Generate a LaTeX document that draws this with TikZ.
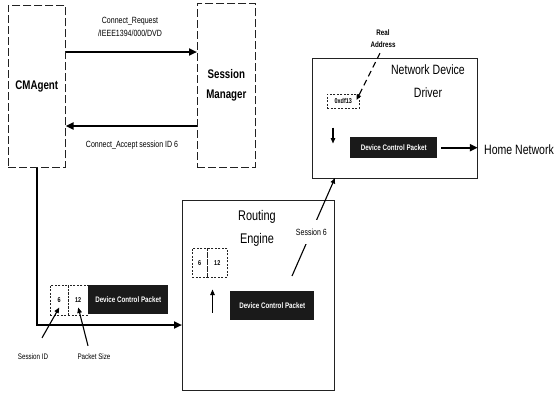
\documentclass[tikz,border=0pt]{standalone}
\usepackage{fontspec}
\setmainfont{Liberation Sans}[FakeStretch=0.78]
\usetikzlibrary{arrows.meta}
\definecolor{pktblack}{HTML}{1A1A1A}
\definecolor{boxline}{HTML}{222222}
\tikzset{
  dashbox/.style={draw=boxline, line width=0.6pt, dash pattern=on 8pt off 3pt, anchor=north west, inner sep=0pt},
  unit/.style={draw=boxline, line width=0.8pt, anchor=north west, inner sep=0pt},
  field/.style={draw=boxline, line width=0.5pt, dash pattern=on 2pt off 1.5pt, anchor=north west, inner sep=0pt,
    font=\bfseries\fontsize{7}{8}\selectfont},
  packet/.style={fill=pktblack, anchor=north west, inner sep=0pt, text=white,
    font=\bfseries\fontsize{8}{9}\selectfont},
  flow/.style={draw=black, line width=2pt, -{Triangle[length=8pt,width=7pt]}},
  pointer/.style={draw=black, line width=1.1pt, -{Triangle[length=5.5pt,width=4.5pt]}},
  big/.style={font=\bfseries\fontsize{12.5}{20}\selectfont, align=center},
  title/.style={font=\fontsize{13.5}{23}\selectfont, align=center},
  lbl/.style={font=\fontsize{9}{13}\selectfont, inner sep=1pt, align=center},
}

\begin{document}
\begin{tikzpicture}[x=1pt,y=-1pt]
  \useasboundingbox (0,0) rectangle (560,394);

  % agent and manager
  \node[dashbox, minimum width=57pt, minimum height=162pt, big] (cma) at (8,5) {CMAgent};
  \node[dashbox, minimum width=58pt, minimum height=164pt, big] (sm) at (197,3) {Session\\Manager};
  \coordinate (reqy) at (0,52);
  \coordinate (accy) at (0,126);
  \draw[flow] (cma.east |- reqy) -- (sm.west |- reqy);
  \draw[flow] (sm.west |- accy) -- (cma.east |- accy);
  \node[lbl] (reqlbl) at (130,27) {Connect\_Request\\/IEEE1394/000/DVD};
  \node[lbl] (acclbl) at (132,145) {Connect\_Accept session ID 6};

  % packet leaving the agent
  \node[field, minimum width=18pt, minimum height=30pt] (sid1) at (50,285) {6};
  \node[field, minimum width=20pt, minimum height=30pt] (psz1) at (68,285) {12};
  \node[packet, minimum width=80pt, minimum height=29pt] (pkt1) at (88,285) {Device Control Packet};
  \node[lbl, font=\fontsize{8}{9}\selectfont] (sidlbl) at (33,357) {Session ID};
  \node[lbl, font=\fontsize{8}{9}\selectfont] (pszlbl) at (94,357) {Packet Size};
  \draw[pointer] ([xshift=9pt,yshift=15pt]sidlbl.north) -- ([yshift=8pt]sid1.south);
  \draw[pointer] ([xshift=-6pt,yshift=7pt]pszlbl.north) -- ([yshift=8pt]psz1.south);

  % routing engine
  \node[unit, minimum width=152pt, minimum height=190pt] (re) at (182,200) {};
  \node[title, font=\fontsize{14}{23}\selectfont] (retitle) at (257,228) {Routing\\Engine};
  \coordinate (pathy) at (0,325);
  \draw[flow] (cma.south) |- (pathy -| re.west);
  \node[field, minimum width=15pt, minimum height=29pt] (rf1) at (192,248) {6};
  \node[field, minimum width=20pt, minimum height=29pt] (rf2) at (207,248) {12};
  \node[packet, minimum width=84pt, minimum height=29pt] (rpkt) at (230,291) {Device Control Packet};
  \draw[pointer] ([xshift=5pt,yshift=-35pt]rf1.south east) -- ([xshift=5pt,yshift=-12pt]rf1.south east);

  % network device driver
  \node[unit, minimum width=165pt, minimum height=120pt] (ndd) at (312,58) {};
  \node[title] (nddtitle) at (428,81) {Network Device\\Driver};
  \node[lbl, font=\bfseries\fontsize{8}{12}\selectfont] (ralbl) at (383,39) {Real\\Address};
  \node[field, minimum width=32pt, minimum height=14pt] (addr) at (327,94) {0xdf13};
  \draw[pointer, dash pattern=on 6pt off 4pt] ([xshift=-3pt,yshift=-4pt]ralbl.south) -- ([xshift=-3pt,yshift=-6pt]addr.north east);
  \draw[pointer] ([xshift=6pt,yshift=-19pt]addr.south west) -- ([xshift=6pt,yshift=-35pt]addr.south west);
  \node[packet, minimum width=87pt, minimum height=21pt] (ndpkt) at (350,137) {Device Control Packet};
  \node[title, anchor=west, inner sep=0pt] (home) at (484,150) {Home Network};
  \draw[flow, shorten <=4pt] (ndpkt.east) -- (ndd.east |- ndpkt.east);

  % session hand-over
  \coordinate (s6start) at (292,276);
  \coordinate (s6end) at (335,178);
  \draw[pointer] (s6start) -- node[lbl, fill=white, inner ysep=9pt, pos=0.45] (s6lbl) {Session 6} (s6end);

\end{tikzpicture}
\end{document}
